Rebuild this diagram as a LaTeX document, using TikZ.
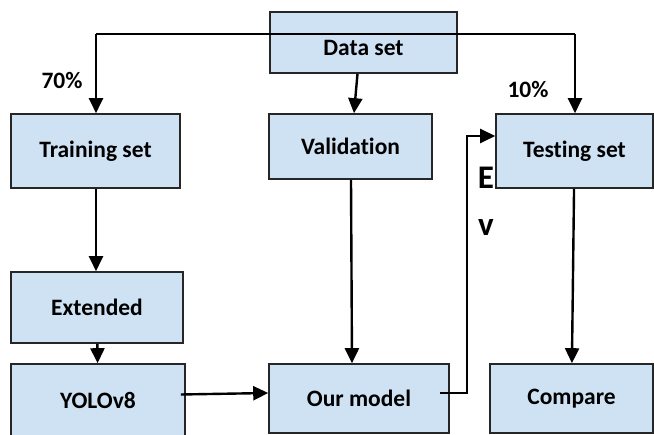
\documentclass[tikz,border=0pt]{standalone}
\usepackage{fontspec}
\setmainfont{Carlito}[Ligatures=NoCommon]
\usepackage{tikz}
\usetikzlibrary{positioning}
\usetikzlibrary{calc,arrows.meta}

\definecolor{boxblue}{RGB}{207,226,243}

\begin{document}
\begin{tikzpicture}
	[   x=1pt,y=-1pt,
		box/.style={draw=black!85,fill=boxblue,line width=1.6pt,inner sep=0pt,
			font=\fontsize{23.5}{28}\selectfont\bfseries},
		tag/.style={font=\fontsize{23.5}{28}\selectfont\bfseries,inner sep=0pt},
	]
	\tikzset{normal arrow/.style={draw,line width=2.4pt,-{Triangle[length=15pt,width=14pt]}}}
	\clip (0,0) rectangle (654,435);
	
	\node[box,minimum width=187,minimum height=61,text height=26pt,text depth=0pt] (data) at (363.5,42.5) {Data set};
	
	\node[box,minimum width=169,minimum height=74] (train) at (95.5,151) {Training set};
	\node[box,minimum width=163,minimum height=65] (valid) at (350.5,146.5) {Validation};
	\node[box,minimum width=157,minimum height=74] (test) at (574.5,151) {Testing set};
	
	\node[box,minimum width=172,minimum height=71] (ext) at (97,307.5) {Extended};
	
	\node[box,minimum width=174,minimum height=72] (yolo) at (98,400) {YOLOv8};
	\node[box,minimum width=180,minimum height=69] (model) at (359,398.5) {Our model};
	\node[box,minimum width=163,minimum height=69] (comp) at (571.5,398.5) {Compare};
	
	\node[tag] (pct70) at (62,81) {70\%};
	\node[tag] (pct10) at (528,90) {10\%};
	\node[tag,font=\fontsize{33}{38}\selectfont\bfseries] (evE) at (486,178) {E};
	\node[tag,font=\fontsize{33}{38}\selectfont\bfseries] (evV) at (486,228) {v};
	
	% split of the data set
	\coordinate (split-l) at (96,34);
	\coordinate (split-r) at (575,34);
	\draw[line width=2.4pt] (split-l) -- (split-r);
	\path[normal arrow] (split-l) -- (split-l |- train.north);
	\path[normal arrow] (split-r) -- (split-r |- test.north);
	\path[normal arrow] ([xshift=-6pt]data.south) -- ([xshift=3.5pt]valid.north);
	
	\path[normal arrow] (train.south -| split-l) -- (ext.north -| split-l);
	\path[normal arrow] (ext) -- (yolo);
	\path[normal arrow] ([xshift=-5pt,yshift=5.5pt]yolo.east) -- ([yshift=5.5pt]model.west);
	\path[normal arrow] ([xshift=0.5pt]valid.south) -- ([xshift=-7pt]model.north);
	\path[normal arrow] (test) -- (comp);
	
	% evaluation loop back to the testing set
	\coordinate (loop-b) at (467,393);
	\coordinate (loop-t) at (467,136);
	\path[normal arrow] ([xshift=-10pt,yshift=5.5pt]model.east) -- (loop-b) -- (loop-t) -- (loop-t -| test.west);
\end{tikzpicture}
\end{document}
